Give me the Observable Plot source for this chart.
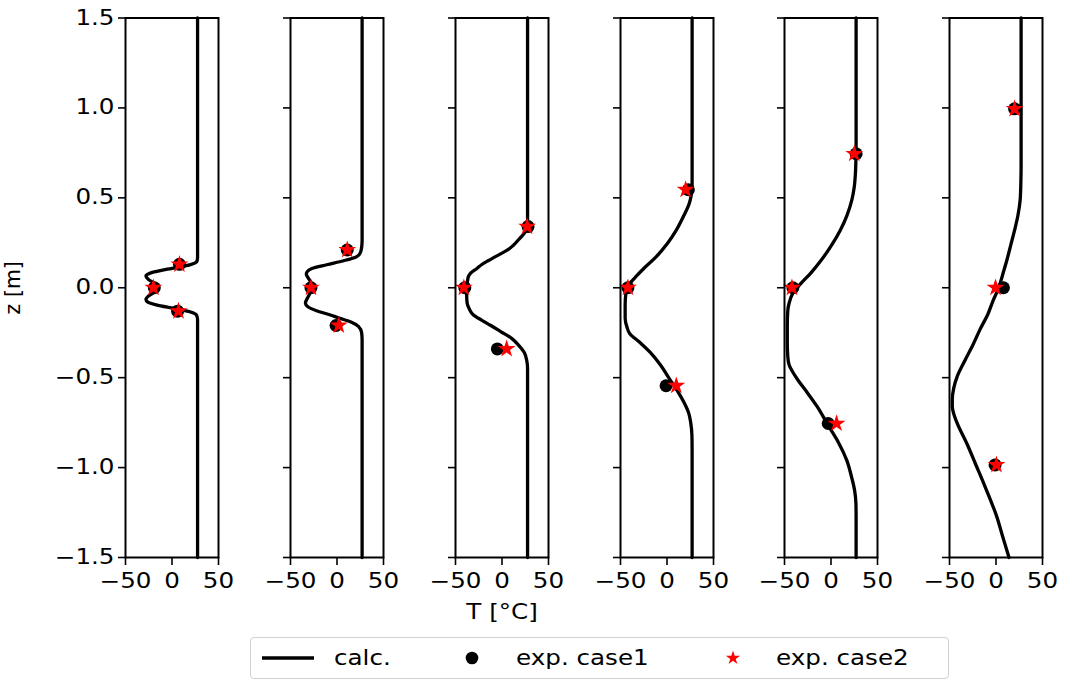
<!DOCTYPE html>
<html>
<head>
<meta charset="utf-8">
<script src="https://cdn.jsdelivr.net/npm/d3@7"></script>
<script src="https://cdn.jsdelivr.net/npm/@observablehq/plot@0.6"></script>
<style>
  body { margin: 0; background: #fff; font-family: "DejaVu Sans", sans-serif; }
  #wrap { position: relative; width: 1065px; height: 681px; overflow: hidden; background: #fff; }
  #wrap svg.panel { position: absolute; top: 0; overflow: visible; }
  #legend { position: absolute; left: 250px; top: 637px; width: 699px; height: 42px;
            border: 1.5px solid #d0d0d0; border-radius: 4px; box-sizing: border-box;
            font-size: 20.5px; color: #000; }
  #legend .item { position: absolute; top: 0; height: 100%; display: flex; align-items: center; }
  #legend .txt span { display: inline-block; transform: scaleX(1.2); transform-origin: 0 50%; }
</style>
</head>
<body>
<div id="wrap"></div>
<script>
// ---------- data ----------
const xTicks = [-50, 0, 50];
const yTicks = [-1.5, -1.0, -0.5, 0.0, 0.5, 1.0, 1.5];
const seriesNames = ["calc.", "exp. case1", "exp. case2"];

// calculated profiles (T in °C, z in m)
const calcZ1 = [1.5, 0.17, 0.15, 0.138, 0.127, 0.115, 0.103, 0.092, 0.08, 0.065, 0.045, 0.025, 0, -0.025, -0.045, -0.065, -0.08, -0.095, -0.108, -0.12, -0.135, -0.15, -0.175, -1.5];
const calcT1 = [27.5, 27.5, 27, 25, 19, 8, -5, -15, -24, -28, -25, -19, -16, -19, -25, -28, -26, -17, -5, 8, 20, 26, 27.5, 27.5];

const calcZ2 = [1.5, 0.26, 0.21, 0.185, 0.17, 0.15, 0.128, 0.107, 0.09, 0.075, 0.055, 0.03, 0, -0.03, -0.06, -0.085, -0.107, -0.128, -0.15, -0.17, -0.19, -0.215, -0.25, -0.29, -1.5];
const calcT2 = [27, 27, 26, 24, 20, 7, -11, -27, -32, -33, -31, -28, -27, -29, -32, -34, -31, -22, -8, 3, 15, 23, 26.5, 27, 27];

const calcZ3 = [1.5, 0.36, 0.34, 0.31, 0.28, 0.235, 0.21, 0.19, 0.17, 0.15, 0.128, 0.107, 0.085, 0.064, 0.04, 0.02, 0, -0.04, -0.085, -0.12, -0.15, -0.18, -0.21, -0.245, -0.28, -0.32, -0.36, -0.41, -0.45, -0.5, -1.5];
const calcT3 = [27.5, 27.5, 27, 25, 20, 12, 6, -1, -8, -15, -22, -27, -33, -36, -37, -37.5, -38, -38, -37.5, -35, -31, -22, -12, -1, 10, 18, 24, 26.8, 27.5, 27.5, 27.5];

const calcZ4 = [1.5, 0.6, 0.555, 0.5, 0.47, 0.4, 0.32, 0.25, 0.17, 0.107, 0.064, 0.03, 0, -0.02, -0.1, -0.17, -0.22, -0.256, -0.3, -0.36, -0.43, -0.51, -0.58, -0.64, -0.7, -0.75, -0.82, -0.9, -1.5];
const calcT4 = [27, 27, 27, 25.5, 24, 18, 10, 1, -12, -25, -33, -39, -43, -44, -45, -45, -43, -40, -30, -18, -7, 3, 12, 18.5, 23.5, 25.5, 26.8, 27, 27];

const calcZ5 = [1.5, 0.78, 0.72, 0.64, 0.56, 0.49, 0.4, 0.32, 0.24, 0.15, 0.08, 0.02, -0.03, -0.085, -0.13, -0.21, -0.3, -0.38, -0.43, -0.47, -0.51, -0.58, -0.66, -0.77, -0.86, -0.96, -1.05, -1.13, -1.2, -1.28, -1.5];
const calcT5 = [27, 27, 26.8, 26.3, 25, 22.5, 17, 10, 1, -11, -22, -33, -41, -45, -46.5, -47, -47, -46.5, -45, -41, -36, -26, -15, -2.5, 8, 17, 22, 25.5, 26.8, 27, 27];

const calcZ6 = [1.5, 0.9, 0.68, 0.58, 0.49, 0.4, 0.32, 0.24, 0.15, 0.07, 0, -0.07, -0.15, -0.23, -0.32, -0.4, -0.49, -0.56, -0.62, -0.66, -0.7, -0.75, -0.87, -0.98, -1.09, -1.18, -1.26, -1.38, -1.5];
const calcT6 = [27, 27, 27, 26.7, 26, 23.5, 20, 16, 11.5, 7, 3, -3, -9, -17, -25, -33, -41.5, -45.5, -47, -47, -45.5, -42, -31, -22, -13, -6, 0, 7, 14];

// measurements
const expZ1 = [0.13, 0, -0.13];   const case1T1 = [8, -19, 6];    const case2T1 = [8, -20, 7];
const expZ2 = [0.21, 0, -0.21];   const case1T2 = [11, -28, -1];  const case2T2 = [11, -28, 2];
const expZ3 = [0.34, 0, -0.34];   const case1T3 = [28, -40, -5];  const case2T3 = [27, -41, 5];
const expZ4 = [0.545, 0, -0.545]; const case1T4 = [23, -42, -1];  const case2T4 = [20, -42, 10];
const expZ5 = [0.745, 0, -0.755]; const case1T5 = [27, -41, -3];  const case2T5 = [25, -42, 6];
const expZ6 = [0.995, 0, -0.985]; const case1T6 = [20, 8, -1];    const case2T6 = [20, -0.5, 0.5];

// ---------- layout ----------
const calcZ = [calcZ1, calcZ2, calcZ3, calcZ4, calcZ5, calcZ6];
const calcT = [calcT1, calcT2, calcT3, calcT4, calcT5, calcT6];
const expZ = [expZ1, expZ2, expZ3, expZ4, expZ5, expZ6];
const case1T = [case1T1, case1T2, case1T3, case1T4, case1T5, case1T6];
const case2T = [case2T1, case2T2, case2T3, case2T4, case2T5, case2T6];

const panelLeft = [125, 290, 454.5, 619.5, 784, 949];
const PW = 93, MT = 17.5, PH = 539.5, MB = 80, MR = 40;
const STRETCH = 1.2;
const wrap = document.getElementById("wrap");

// widen glyphs horizontally (the reference figure is horizontally stretched), keeping each anchor fixed
function stretchTexts(svg, selector) {
  svg.querySelectorAll(selector).forEach(t => {
    const b = t.getBBox();
    const anchor = getComputedStyle(t).textAnchor || t.getAttribute("text-anchor") ||
                   (t.parentNode && t.parentNode.getAttribute("text-anchor")) || "start";
    let ax = b.x;
    if (anchor === "middle") ax = b.x + b.width / 2;
    else if (anchor === "end") ax = b.x + b.width;
    const prev = t.getAttribute("transform") || "";
    t.setAttribute("transform", `${prev} translate(${ax},0) scale(${STRETCH},1) translate(${-ax},0)`.trim());
  });
}

for (let i = 0; i < 6; i++) {
  const ml = i === 0 ? 125 : 20;
  const line = calcZ[i].map((z, k) => ({z, T: calcT[i][k]})).sort((a, b) => a.z - b.z);
  const pts = expZ[i].map((z, k) => ({z, c1: case1T[i][k], c2: case2T[i][k]}));
  const svg = Plot.plot({
    width: ml + PW + MR,
    height: MT + PH + MB,
    marginLeft: ml, marginRight: MR, marginTop: MT, marginBottom: MB,
    x: {domain: [-50, 50]},
    y: {domain: [-1.5, 1.5]},
    style: {fontFamily: "DejaVu Sans, sans-serif", fontSize: "20.5px", color: "black", background: "transparent", overflow: "visible"},
    marks: [
      Plot.axisX(xTicks, {tickSize: 8, tickPadding: 8, strokeWidth: 1.6, tickFormat: d => d3.format("d")(d),
        label: i === 2 ? "T [°C]" : null, labelAnchor: "center", labelArrow: "none", labelOffset: 61}),
      Plot.axisY(yTicks, {tickSize: 7, tickPadding: 4, strokeWidth: 1.6,
        tickFormat: i === 0 ? d3.format(".1f") : () => "",
        label: i === 0 ? "z [m]" : null, labelAnchor: "center", labelArrow: "none", labelOffset: 120}),
      Plot.line(line, {x: "T", y: "z", stroke: "black", strokeWidth: 3.3, curve: "monotone-y"}),
      Plot.dot(pts, {x: "c1", y: "z", r: 6.5, fill: "black", stroke: "none", symbol: "circle"}),
      Plot.dot(pts, {x: "c2", y: "z", r: 5.6, fill: "red", stroke: "none", symbol: "star"}),
      Plot.frame({stroke: "black", strokeWidth: 2})
    ]
  });
  svg.classList.add("panel");
  svg.style.left = (panelLeft[i] - ml) + "px";
  wrap.appendChild(svg);
  stretchTexts(svg, '[aria-label="x-axis tick label"] text, [aria-label="y-axis tick label"] text, [aria-label="x-axis label"] text');
}

// ---------- legend ----------
const legend = d3.select(wrap).append("div").attr("id", "legend");
// calc. line
let it = legend.append("div").attr("class", "item").style("left", "11px");
it.append("svg").attr("width", 52).attr("height", 10)
  .append("line").attr("x1", 0).attr("x2", 52).attr("y1", 5).attr("y2", 5)
  .attr("stroke", "black").attr("stroke-width", 3.3);
legend.append("div").attr("class", "item txt").style("left", "83px").append("span").text(seriesNames[0]);
// case1 circle
it = legend.append("div").attr("class", "item").style("left", "213px");
it.append("svg").attr("width", 16).attr("height", 16)
  .append("circle").attr("cx", 8).attr("cy", 8).attr("r", 6.3).attr("fill", "black");
legend.append("div").attr("class", "item txt").style("left", "265px").append("span").text(seriesNames[1]);
// case2 star
it = legend.append("div").attr("class", "item").style("left", "474px");
it.append("svg").attr("width", 16).attr("height", 16)
  .append("path").attr("transform", "translate(8,8)")
  .attr("d", d3.symbol(d3.symbolStar, Math.PI * 20)()).attr("fill", "red");
legend.append("div").attr("class", "item txt").style("left", "525px").append("span").text(seriesNames[2]);
</script>
</body>
</html>
